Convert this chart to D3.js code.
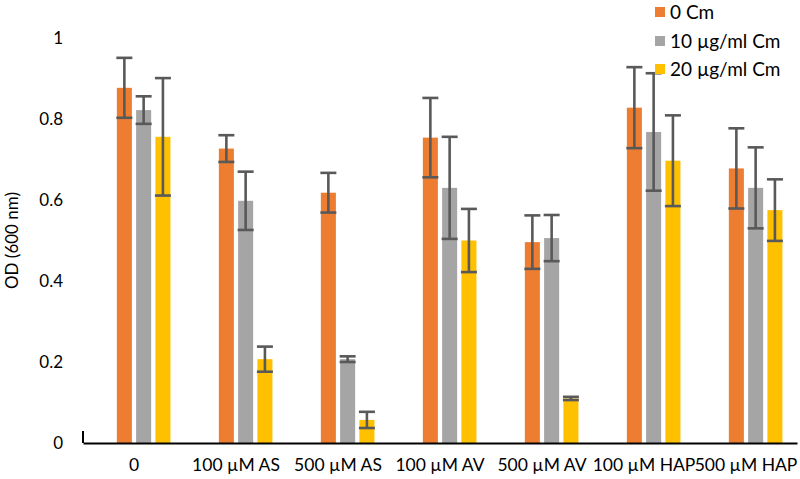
<!DOCTYPE html>
<html>
<head>
<meta charset="utf-8">
<script src="https://cdn.jsdelivr.net/npm/d3@7"></script>
<style>
  body { margin: 0; background: #fff; }
  svg { font-family: Lato, "Open Sans", sans-serif; }
</style>
</head>
<body>
<svg></svg>
<script>
let categories = ['0', '100 \u00b5M AS', '500 \u00b5M AS', '100 \u00b5M AV', '500 \u00b5M AV', '100 \u00b5M HAP', '500 \u00b5M HAP'];
let series = ['0 Cm', '10 \u00b5g/ml Cm', '20 \u00b5g/ml Cm'];
let colors = ['#ED7D31', '#A5A5A5', '#FFC000'];

// bar heights and error (+/-) per series
let cm0 = [0.877, 0.727, 0.618, 0.754, 0.496, 0.828, 0.678];
let cm0Err = [0.074, 0.033, 0.049, 0.098, 0.066, 0.100, 0.099];
let cm10 = [0.822, 0.598, 0.207, 0.630, 0.506, 0.768, 0.630];
let cm10Err = [0.034, 0.072, 0.007, 0.126, 0.057, 0.145, 0.100];
let cm20 = [0.756, 0.207, 0.057, 0.500, 0.110, 0.697, 0.575];
let cm20Err = [0.145, 0.031, 0.020, 0.078, 0.004, 0.112, 0.076];

let yTicks = [0, 0.2, 0.4, 0.6, 0.8, 1];

let width = 800;
let height = 479;

let svg = d3.select('svg').attr('width', width).attr('height', height);

let values = [cm0, cm10, cm20];
let errors = [cm0Err, cm10Err, cm20Err];
let bars = [];
categories.forEach((cat, i) => {
  series.forEach((s, j) => {
    bars.push({cat: cat, series: s, color: colors[j], value: values[j][i], err: errors[j][i]});
  });
});

let xScale = d3.scaleBand().domain(categories).range([83, 797]);
// excel leaves an empty first slot in each cluster
let slotScale = d3.scaleBand().domain(['', ...series]).
  range([0, xScale.bandwidth()]).
  paddingInner(0.22).
  paddingOuter(0.755);
let yScale = d3.scaleLinear().domain([0, 1]).range([443, 38]);

let barX = d => xScale(d.cat) + slotScale(d.series);
let barMid = d => barX(d) + slotScale.bandwidth() / 2;

svg.selectAll('rect.bar').
  data(bars).
  enter().
  append('rect').
  attr('class', 'bar').
  attr('x', barX).
  attr('width', slotScale.bandwidth()).
  attr('y', d => yScale(d.value)).
  attr('height', d => yScale(0) - yScale(d.value)).
  attr('fill', d => d.color);

// error bars
let err = svg.append('g').attr('stroke', '#595959').attr('stroke-width', 2.6);
err.selectAll('line.stem').
  data(bars).
  enter().
  append('line').
  attr('x1', barMid).
  attr('x2', barMid).
  attr('y1', d => yScale(d.value + d.err)).
  attr('y2', d => yScale(d.value - d.err));
['top', 'bottom'].forEach(side => {
  err.selectAll('line.' + side).
    data(bars).
    enter().
    append('line').
    attr('class', side).
    attr('x1', d => barMid(d) - 8).
    attr('x2', d => barMid(d) + 8).
    attr('y1', d => yScale(side == 'top' ? d.value + d.err : d.value - d.err)).
    attr('y2', d => yScale(side == 'top' ? d.value + d.err : d.value - d.err));
});

// axes
let xAxis = d3.axisBottom(xScale).tickSize(0).tickPadding(16);
let gx = svg.append('g').
  attr('transform', 'translate(0, ' + yScale(0) + ')').
  call(xAxis);
gx.select('.domain').attr('stroke', '#000').attr('stroke-width', 2);
gx.selectAll('text').attr('font-size', 17.5).attr('fill', '#000').attr('font-family', 'Lato');

svg.append('line').
  attr('x1', xScale.range()[0]).
  attr('x2', xScale.range()[0]).
  attr('y1', yScale(0) - 12).
  attr('y2', yScale(0)).
  attr('stroke', '#000').
  attr('stroke-width', 2);

let yAxis = d3.axisLeft(yScale).tickValues(yTicks).tickSize(0).tickPadding(0).tickFormat(d => String(d));
let gy = svg.append('g').
  attr('transform', 'translate(63, 0)').
  call(yAxis);
gy.select('.domain').remove();
gy.selectAll('text').attr('font-size', 17).attr('fill', '#000').attr('font-family', 'Lato');

svg.append('text').
  attr('transform', 'translate(18, ' + yScale(0.5) + ') rotate(-90)').
  attr('text-anchor', 'middle').
  attr('font-size', 17).
  text('OD (600 nm)');

// legend
let legend = svg.append('g');
let legendY = [12, 41, 69];
series.forEach((s, j) => {
  legend.append('rect').
    attr('x', 655).
    attr('y', legendY[j] - 5).
    attr('width', 10).
    attr('height', 10).
    attr('fill', colors[j]);
  legend.append('text').
    attr('x', 670).
    attr('y', legendY[j]).
    attr('dy', '0.35em').
    attr('font-size', 19).
    text(s);
});
</script>
</body>
</html>
